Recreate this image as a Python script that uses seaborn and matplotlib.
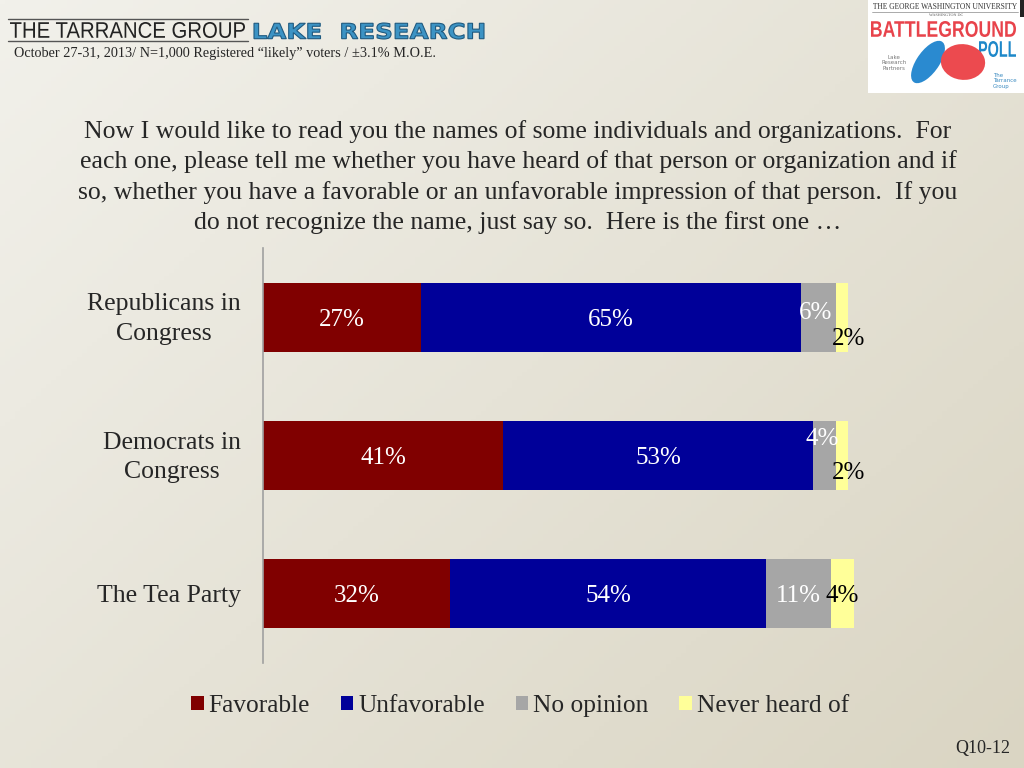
import numpy as np
import pandas as pd
import matplotlib
matplotlib.use("Agg")
import matplotlib.pyplot as plt
from matplotlib.patches import Patch, Rectangle, Ellipse, PathPatch
from matplotlib.lines import Line2D
from matplotlib.textpath import TextPath
from matplotlib.font_manager import FontProperties
from matplotlib.transforms import Affine2D
import seaborn as sns

# Data
categories = ["Republicans in\nCongress", "Democrats in\nCongress", "The Tea Party"]
series_names = ["Favorable", "Unfavorable", "No opinion", "Never heard of"]
favorable = [27, 41, 32]
unfavorable = [65, 53, 54]
no_opinion = [6, 4, 11]
never_heard = [2, 2, 4]

question = ("Now I would like to read you the names of some individuals and organizations.  For\n"
            "each one, please tell me whether you have heard of that person or organization and if\n"
            "so, whether you have a favorable or an unfavorable impression of that person.  If you\n"
            "do not recognize the name, just say so.  Here is the first one \u2026")
subtitle = "October 27-31, 2013/ N=1,000 Registered \u201clikely\u201d voters / \u00b13.1% M.O.E."

colors = ["#800000", "#000099", "#A6A6A6", "#FFFF99"]
label_colors = ["white", "white", "white", "black"]

df = pd.DataFrame({"category": categories,
                   "Favorable": favorable,
                   "Unfavorable": unfavorable,
                   "No opinion": no_opinion,
                   "Never heard of": never_heard})
cum = df[series_names].cumsum(axis=1)

sns.set_style("white")
plt.rcParams["font.family"] = ["Liberation Serif", "DejaVu Serif"]

W, H = 1024, 768
fig = plt.figure(figsize=(10.24, 7.68), dpi=100)
px = Affine2D().scale(1 / W, 1 / H) + fig.transFigure


def boxed_text(s, x0, y0, x1, y1, color, family="Liberation Sans", weight="normal",
               edge=None, lw=0):
    # text path squeezed into a pixel box (y measured from the top)
    tp = TextPath((0, 0), s, size=100, prop=FontProperties(family=family, weight=weight))
    bb = tp.get_extents()
    tr = (Affine2D().translate(-bb.x0, -bb.y0)
          .scale((x1 - x0) / bb.width, (y1 - y0) / bb.height)
          .translate(x0, H - y1))
    fig.add_artist(PathPatch(tr.transform_path(tp), facecolor=color,
                             edgecolor=edge if edge else "none", lw=lw, transform=px))


# background gradient
bg = fig.add_axes([0, 0, 1, 1], zorder=-10)
gx, gy = np.meshgrid(np.linspace(0, 1, 200), np.linspace(0, 1, 200))
t = np.clip(0.55 * gx + 0.45 * gy, 0, 1)
c0 = np.array([0xF2, 0xF1, 0xEB]) / 255
c1 = np.array([0xDA, 0xD5, 0xC3]) / 255
img = c0[None, None, :] * (1 - t[..., None]) + c1[None, None, :] * t[..., None]
bg.imshow(img, aspect="auto", extent=[0, 1, 0, 1])
bg.axis("off")

ax = fig.add_axes([263 / W, 1 - 663 / H, 591 / W, 415 / H])
ax.patch.set_alpha(0)

# stacked bars: draw cumulative totals back to front
for name, col in reversed(list(zip(series_names, colors))):
    sns.barplot(x=cum[name], y=df["category"], orient="h", color=col,
                saturation=1, width=0.5, linewidth=0, ax=ax)

ax.set_xlim(0, 101)
ax.set_ylim(2.5, -0.5)
ax.set_xlabel("")
ax.set_ylabel("")
ax.set_xticks([])
for s in ["top", "right", "bottom"]:
    ax.spines[s].set_visible(False)
ax.spines["left"].set_color("#A0A0A0")
ax.spines["left"].set_linewidth(1.2)
ax.set_yticks(range(len(categories)))
ax.set_yticklabels([])
ax.set_yticks([-0.5, 0.5, 1.5, 2.5], minor=True)
ax.tick_params(axis="y", which="major", length=0)
ax.tick_params(axis="y", which="minor", length=6, color="#A0A0A0", width=1.2)

# category labels, right aligned next to the axis
for i, cat in enumerate(categories):
    ax.annotate(cat, xy=(0, i), xycoords=("axes fraction", "data"),
                xytext=(-22, -2), textcoords="offset pixels", ha="right", va="center",
                multialignment="center", fontsize=18.5, linespacing=1.45)

offsets = {(0, 2): (-0.5, -0.05), (0, 3): (1, 0.14),
           (1, 2): (-0.5, -0.14), (1, 3): (1, 0.11)}
for i in range(len(categories)):
    start = 0
    for j, name in enumerate(series_names):
        v = df.loc[i, name]
        dx, dy = offsets.get((i, j), (0, 0))
        ax.text(start + v / 2 + dx, i + dy, f"{v}%", ha="center", va="center_baseline",
                fontsize=18, color=label_colors[j], zorder=5)
        start += v

# question text
fig.text(518 / W, 1 - 177 / H, question, ha="center", va="center",
         fontsize=18.5, linespacing=1.4)

# legend
handles = [Patch(facecolor=c, edgecolor="none") for c in colors]
fig.legend(handles, series_names, loc="center", bbox_to_anchor=(520 / W, 1 - 706 / H),
           ncol=4, frameon=False, fontsize=18.3, handlelength=0.5, handleheight=0.5,
           handletextpad=0.2, columnspacing=1.2)

# header
fig.add_artist(Line2D([8 / W, 248 / W], [1 - 19 / H] * 2, color="#555555", lw=1))
fig.add_artist(Line2D([8 / W, 248 / W], [1 - 41 / H] * 2, color="#555555", lw=1))
boxed_text("THE TARRANCE GROUP", 10, 22, 245, 38, "#222222")
boxed_text("LAKE  RESEARCH", 254, 23, 484, 39, "#3C93C4", family="DejaVu Sans",
           weight="bold", edge="#1F5A80", lw=0.8)
fig.text(14 / W, 1 - 54 / H, subtitle, ha="left", va="center", fontsize=10.25)

# logo box
fig.add_artist(Rectangle((868 / W, 1 - 93 / H), 156 / W, 93 / H,
                         facecolor="white", edgecolor="none", transform=fig.transFigure))
fig.add_artist(Rectangle((1020 / W, 1 - 17 / H), 4 / W, 17 / H,
                         facecolor="#222222", edgecolor="none", transform=fig.transFigure))
boxed_text("THE GEORGE WASHINGTON UNIVERSITY", 873, 3, 1017, 9, "#333333",
           family="Liberation Serif")
fig.add_artist(Line2D([872 / W, 1018 / W], [1 - 11.5 / H] * 2, color="#888888", lw=0.5))
boxed_text("WASHINGTON DC", 929, 13.5, 963, 16, "#555555", family="Liberation Serif")
boxed_text("BATTLEGROUND", 871, 21, 1016, 37, "#E8434B", weight="bold")
boxed_text("POLL", 979, 41, 1016, 57, "#1E88C9", weight="bold")
fig.add_artist(Ellipse((928 / W, 1 - 62 / H), 24 / W, 46 / H, angle=-25,
                       facecolor="#2A8AD0", edgecolor="none", transform=fig.transFigure))
fig.add_artist(Ellipse((963 / W, 1 - 62 / H), 44 / W, 36 / H, angle=15,
                       facecolor="#EC4A4F", edgecolor="none", transform=fig.transFigure))
fig.text(894 / W, 1 - 63 / H, "Lake\nResearch\nPartners", ha="center", va="center",
         fontsize=4, color="#777777", family=["DejaVu Sans"], linespacing=1.1)
fig.text(993 / W, 1 - 81 / H, "The\nTarrance\nGroup", ha="left", va="center",
         fontsize=4, color="#3A8AC0", family=["DejaVu Sans"], linespacing=1.1)

fig.text(1010 / W, 1 - 748 / H, "Q10-12", ha="right", va="center", fontsize=13)

fig.savefig("out.png", dpi=100)
